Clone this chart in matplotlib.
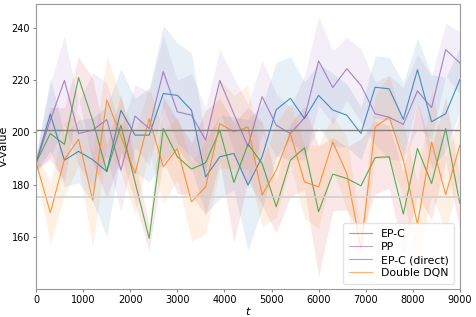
import numpy as np
import matplotlib
matplotlib.use("Agg")
import matplotlib.pyplot as plt

steps = np.arange(0, 9001, 300)

# mean curves
epc = [188.4, 206.9, 189.3, 192.7, 189.5, 185.0, 208.4, 198.9, 198.9, 214.8,
       214.1, 208.4, 182.9, 190.6, 191.9, 179.8, 190.6, 208.6, 213.0, 205.2,
       214.1, 208.5, 206.5, 199.5, 217.2, 216.6, 204.9, 223.9, 204.0, 207.1, 220.1]
pp = [188.4, 204.6, 219.8, 199.5, 200.8, 204.8, 185.5, 206.2, 201.4, 223.2,
      207.8, 206.5, 197.0, 219.8, 207.0, 194.6, 213.6, 202.7, 199.5, 205.5,
      227.3, 217.1, 224.3, 217.9, 207.1, 205.7, 203.0, 215.8, 209.4, 231.6, 226.5]
epc_direct = [188.4, 199.5, 195.4, 220.9, 204.6, 184.9, 202.7, 181.0, 159.4, 201.4,
              190.6, 185.9, 188.3, 200.8, 180.8, 195.5, 188.0, 171.5, 189.3, 194.0,
              169.6, 184.0, 182.3, 179.5, 190.3, 190.6, 168.7, 193.8, 180.4, 201.4, 172.8]
ddqn = [188.4, 169.2, 189.6, 197.3, 174.0, 212.4, 198.5, 184.2, 205.2, 186.8,
        193.8, 173.4, 179.1, 203.3, 200.1, 202.0, 176.0, 185.5, 199.5, 181.0,
        179.1, 196.3, 184.2, 155.6, 202.0, 205.8, 189.3, 164.8, 196.3, 176.1, 195.0]

# rough half widths of the shaded bands
epc_sd = [3, 14, 10, 12, 16, 25, 16, 14, 18, 26, 20, 22, 14, 16, 14, 25, 20, 18, 16, 14,
          12, 14, 12, 10, 12, 12, 14, 12, 18, 14, 12]
pp_sd = [3, 14, 17, 12, 22, 14, 16, 12, 14, 14, 12, 16, 12, 12, 14, 16, 14, 12, 10, 16,
         17, 14, 12, 14, 12, 16, 14, 14, 12, 10, 12]
direct_sd = [3, 10, 14, 8, 16, 10, 12, 8, 5, 12, 14, 10, 20, 12, 23, 14, 16, 10, 14, 16,
             25, 14, 12, 18, 14, 12, 16, 18, 14, 12, 10]
ddqn_sd = [3, 12, 14, 10, 18, 17, 14, 16, 12, 14, 12, 15, 18, 17, 14, 16, 12, 18, 12, 14,
           16, 10, 14, 6, 12, 16, 14, 16, 20, 14, 12]

series = [
    ("EP-C", epc, epc_sd, "tab:blue", "tab:blue"),
    ("PP", pp, pp_sd, "tab:purple", "tab:purple"),
    ("EP-C (direct)", epc_direct, direct_sd, "tab:green", "tab:red"),
    ("Double DQN", ddqn, ddqn_sd, "tab:orange", "tab:orange"),
]

fig = plt.figure(figsize=(4.76, 3.17), dpi=100)
ax = fig.add_axes([0.076, 0.088, 0.890, 0.899])

for name, mean, sd, col, fill_col in series:
    mean = np.array(mean)
    sd = np.array(sd)
    ax.fill_between(steps, mean - sd, mean + sd, color=fill_col, alpha=0.11, lw=0)
    ax.plot(steps, mean, color=col, lw=0.8, alpha=0.8, label=name)

ax.axhline(201, color="#808080", lw=1.0)
ax.axhline(175.3, color="#d0d0d0", lw=1.2)

ax.set_xlim(0, 9000)
ax.set_ylim(140, 249)
ax.set_yticks([160, 180, 200, 220, 240])
ax.set_xticks(range(0, 9001, 1000))
ax.tick_params(labelsize=7, length=2.5, color="#888888", pad=2)
for s in ax.spines.values():
    s.set_color("#999999")
ax.set_xlabel("$t$", fontsize=8, labelpad=0)
ax.set_ylabel("V-value", fontsize=8, labelpad=2)

leg = ax.legend(loc="lower right", fontsize=7.8, framealpha=0.8, edgecolor="#dddddd",
                handlelength=2.2, borderpad=0.5, labelspacing=0.3)
for h in leg.get_lines():
    h.set_alpha(0.6)

fig.savefig("out.png", dpi=100)
